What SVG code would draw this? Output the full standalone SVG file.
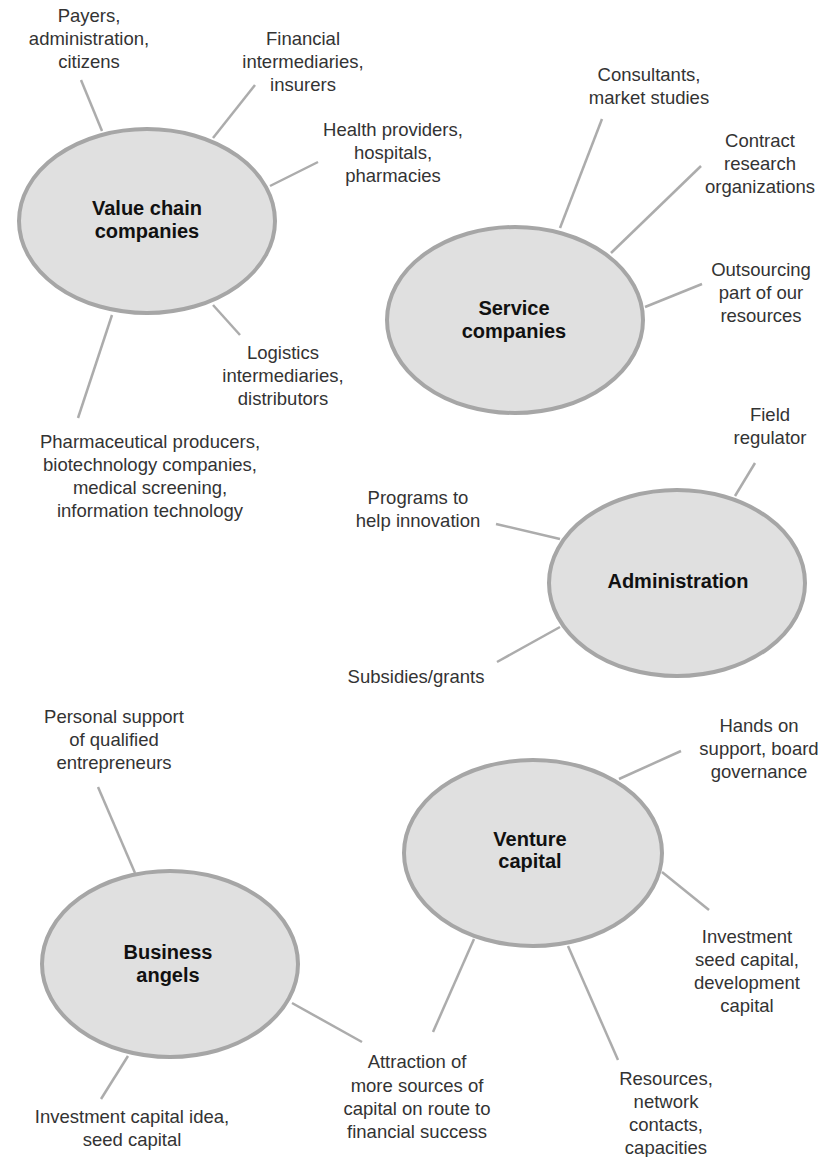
<svg xmlns="http://www.w3.org/2000/svg" width="836" height="1157" viewBox="0 0 836 1157">
  <style>
    .hub { fill: #e0e0e0; stroke: #a6a6a6; stroke-width: 4; }
    .title { font-family: "Liberation Sans", Arial, sans-serif; font-size: 20px; font-weight: bold; fill: #111; text-anchor: middle; }
    .label { font-family: "Liberation Sans", Arial, sans-serif; font-size: 18.5px; fill: #333; text-anchor: middle; }
    .spoke { stroke: #acacac; stroke-width: 2.5; fill: none; stroke-linecap: butt; }
  </style>
  <rect width="836" height="1157" fill="#ffffff"/>

  <!-- spokes joining each hub to its labels -->
  <g id="connectors">
    <!-- value chain companies -->
    <line class="spoke" x1="81" y1="80" x2="102" y2="131"/>
    <line class="spoke" x1="255" y1="85" x2="213" y2="138"/>
    <line class="spoke" x1="318" y1="162" x2="270" y2="186"/>
    <line class="spoke" x1="240" y1="335" x2="213" y2="305"/>
    <line class="spoke" x1="78" y1="418" x2="112" y2="315"/>
    <!-- service companies -->
    <line class="spoke" x1="602" y1="119" x2="560" y2="228"/>
    <line class="spoke" x1="701" y1="166" x2="611" y2="253"/>
    <line class="spoke" x1="702" y1="284" x2="645" y2="307"/>
    <!-- administration -->
    <line class="spoke" x1="755" y1="463" x2="735" y2="496"/>
    <line class="spoke" x1="496" y1="524" x2="560" y2="539"/>
    <line class="spoke" x1="497" y1="662" x2="560" y2="627"/>
    <!-- business angels -->
    <line class="spoke" x1="98" y1="787" x2="135" y2="873"/>
    <line class="spoke" x1="101" y1="1099" x2="128" y2="1056"/>
    <line class="spoke" x1="292" y1="1003" x2="362" y2="1042"/>
    <!-- venture capital -->
    <line class="spoke" x1="681" y1="751" x2="619" y2="779"/>
    <line class="spoke" x1="709" y1="910" x2="662" y2="872"/>
    <line class="spoke" x1="618" y1="1060" x2="568" y2="946"/>
    <line class="spoke" x1="433" y1="1032" x2="474" y2="939"/>
  </g>

  <g id="value-chain">
    <ellipse class="hub" cx="147" cy="221" rx="128" ry="92"/>
    <text class="title" x="147" y="215">Value chain</text>
    <text class="title" x="147" y="238">companies</text>
    <text class="label" x="89"><tspan x="89" y="22">Payers,</tspan><tspan x="89" y="45">administration,</tspan><tspan x="89" y="68">citizens</tspan></text>
    <text class="label" x="303"><tspan x="303" y="45">Financial</tspan><tspan x="303" y="68">intermediaries,</tspan><tspan x="303" y="91">insurers</tspan></text>
    <text class="label" x="393"><tspan x="393" y="136">Health providers,</tspan><tspan x="393" y="159">hospitals,</tspan><tspan x="393" y="182">pharmacies</tspan></text>
    <text class="label" x="283"><tspan x="283" y="359">Logistics</tspan><tspan x="283" y="382">intermediaries,</tspan><tspan x="283" y="405">distributors</tspan></text>
    <text class="label" x="150"><tspan x="150" y="448">Pharmaceutical producers,</tspan><tspan x="150" y="471">biotechnology companies,</tspan><tspan x="150" y="494">medical screening,</tspan><tspan x="150" y="517">information technology</tspan></text>
  </g>

  <g id="service">
    <ellipse class="hub" cx="515" cy="320" rx="128" ry="93"/>
    <text class="title" x="514" y="315">Service</text>
    <text class="title" x="514" y="338">companies</text>
    <text class="label" x="649"><tspan x="649" y="81">Consultants,</tspan><tspan x="649" y="104">market studies</tspan></text>
    <text class="label" x="760"><tspan x="760" y="147">Contract</tspan><tspan x="760" y="170">research</tspan><tspan x="760" y="193">organizations</tspan></text>
    <text class="label" x="761"><tspan x="761" y="276">Outsourcing</tspan><tspan x="761" y="299">part of our</tspan><tspan x="761" y="322">resources</tspan></text>
  </g>

  <g id="administration">
    <ellipse class="hub" cx="677" cy="583" rx="128" ry="93"/>
    <text class="title" x="678" y="588">Administration</text>
    <text class="label" x="770"><tspan x="770" y="421">Field</tspan><tspan x="770" y="444">regulator</tspan></text>
    <text class="label" x="418"><tspan x="418" y="504">Programs to</tspan><tspan x="418" y="527">help innovation</tspan></text>
    <text class="label" x="416" y="683">Subsidies/grants</text>
  </g>

  <g id="business-angels">
    <ellipse class="hub" cx="170" cy="964" rx="128" ry="93"/>
    <text class="title" x="168" y="959">Business</text>
    <text class="title" x="168" y="982">angels</text>
    <text class="label" x="114"><tspan x="114" y="723">Personal support</tspan><tspan x="114" y="746">of qualified</tspan><tspan x="114" y="769">entrepreneurs</tspan></text>
    <text class="label" x="132"><tspan x="132" y="1123">Investment capital idea,</tspan><tspan x="132" y="1146">seed capital</tspan></text>
  </g>

  <g id="venture-capital">
    <ellipse class="hub" cx="533" cy="853" rx="129" ry="93"/>
    <text class="title" x="530" y="846">Venture</text>
    <text class="title" x="530" y="868">capital</text>
    <text class="label" x="759"><tspan x="759" y="732">Hands on</tspan><tspan x="759" y="755">support, board</tspan><tspan x="759" y="778">governance</tspan></text>
    <text class="label" x="747"><tspan x="747" y="943">Investment</tspan><tspan x="747" y="966">seed capital,</tspan><tspan x="747" y="989">development</tspan><tspan x="747" y="1012">capital</tspan></text>
    <text class="label" x="666"><tspan x="666" y="1085">Resources,</tspan><tspan x="666" y="1108">network</tspan><tspan x="666" y="1131">contacts,</tspan><tspan x="666" y="1154">capacities</tspan></text>
    <text class="label" x="417"><tspan x="417" y="1068">Attraction of</tspan><tspan x="417" y="1092">more sources of</tspan><tspan x="417" y="1115">capital on route to</tspan><tspan x="417" y="1138">financial success</tspan></text>
  </g>
</svg>
